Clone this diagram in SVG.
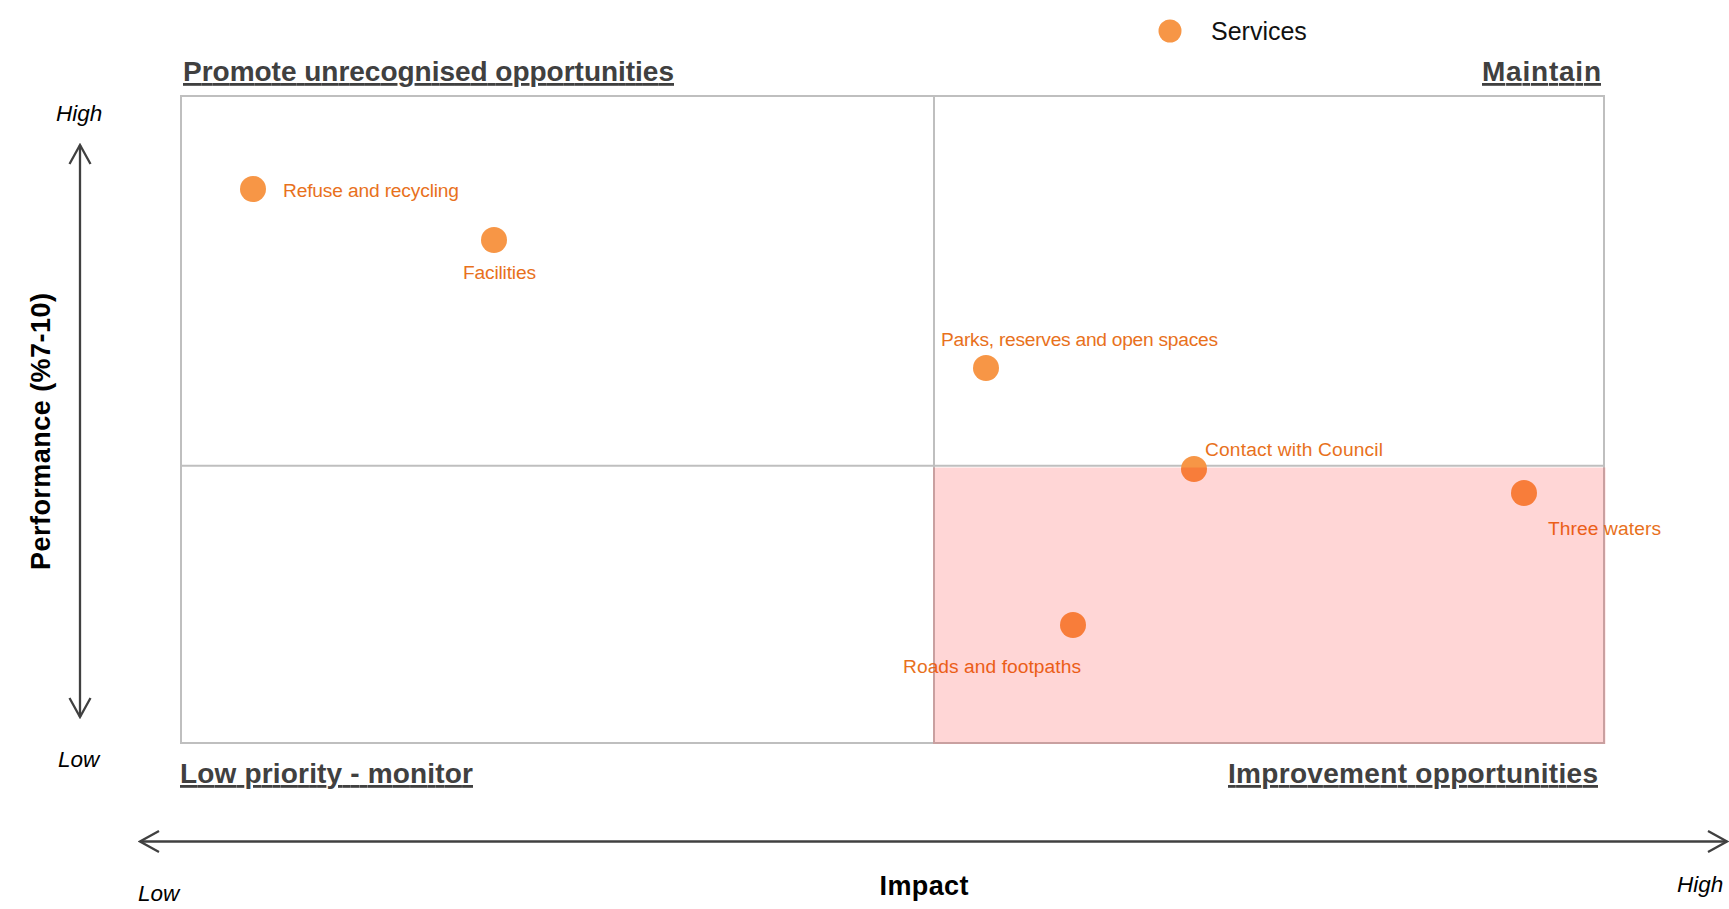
<svg xmlns="http://www.w3.org/2000/svg" width="1729" height="909" viewBox="0 0 1729 909">
<style>
  .heading { font-family: "Liberation Sans", Arial, sans-serif; font-weight: bold; font-size: 28px; fill: #404040; text-decoration: underline; }
  .axislbl { font-family: "Liberation Sans", Arial, sans-serif; font-style: italic; font-size: 22.5px; fill: #000000; }
  .axistitle { font-family: "Liberation Sans", Arial, sans-serif; font-weight: bold; font-size: 27px; fill: #000000; }
  .lbl { font-family: "Liberation Sans", Arial, sans-serif; font-size: 19.2px; fill: #E8711C; }
  .dot { fill: #F79646; }
  .grid { stroke: #BFBFBF; stroke-width: 2; fill: none; }
  .axis { stroke: #404040; stroke-width: 2.3; fill: none; }
  .legend { font-family: "Liberation Sans", Arial, sans-serif; font-size: 25px; fill: #111111; }
</style>
<defs>
  <marker id="chev" viewBox="0 0 22 24" markerWidth="22" markerHeight="24" refX="20" refY="12" markerUnits="userSpaceOnUse" orient="auto-start-reverse">
    <path d="M1,1.5 L20,12 L1,22.5" fill="none" stroke="#404040" stroke-width="2.3"/>
  </marker>
</defs>
<rect x="0" y="0" width="1729" height="909" fill="#FFFFFF"/>

<g id="legend">
  <circle cx="1170" cy="31" r="11.5" class="dot"/>
  <text x="1211" y="40" class="legend">Services</text>
</g>

<g id="quadrant-grid">
  <rect x="181" y="96" width="1423" height="647" class="grid"/>
  <line x1="934" y1="96" x2="934" y2="743" class="grid"/>
  <line x1="181" y1="465.7" x2="1604" y2="465.7" class="grid"/>
</g>

<g id="headings">
  <text id="h-promote" x="183" y="81" class="heading" textLength="491">Promote unrecognised opportunities</text>
  <text id="h-maintain" x="1482" y="81" class="heading" textLength="119">Maintain</text>
  <text id="h-low" x="180" y="783" class="heading" textLength="293">Low priority - monitor</text>
  <text id="h-improve" x="1228" y="783" class="heading" textLength="370">Improvement opportunities</text>
</g>

<g id="connectors">
  <line x1="80" y1="145" x2="80" y2="717" class="axis" marker-start="url(#chev)" marker-end="url(#chev)"/>
  <line x1="140" y1="841.5" x2="1727" y2="841.5" class="axis" marker-start="url(#chev)" marker-end="url(#chev)"/>
</g>

<g id="axis-labels">
  <text x="56" y="121" class="axislbl">High</text>
  <text x="58" y="767" class="axislbl">Low</text>
  <text x="138" y="901" class="axislbl">Low</text>
  <text x="1677" y="892" class="axislbl">High</text>
  <text x="924" y="895" class="axistitle" text-anchor="middle" textLength="89">Impact</text>
  <text transform="translate(49.5,431.5) rotate(-90)" class="axistitle" text-anchor="middle" textLength="277">Performance (%7-10)</text>
</g>

<g id="node-refuse">
  <circle cx="253" cy="189" r="13" class="dot"/>
  <text x="283" y="196.7" class="lbl" textLength="176">Refuse and recycling</text>
</g>
<g id="node-facilities">
  <circle cx="494" cy="240" r="13" class="dot"/>
  <text x="463" y="279.3" class="lbl" textLength="73">Facilities</text>
</g>
<g id="node-parks">
  <circle cx="986" cy="368" r="13" class="dot"/>
  <text x="941" y="345.7" class="lbl" textLength="277">Parks, reserves and open spaces</text>
</g>
<g id="node-contact">
  <circle cx="1194" cy="469" r="13" class="dot"/>
  <text x="1205" y="455.7" class="lbl" textLength="178">Contact with Council</text>
</g>
<g id="node-three-waters">
  <circle cx="1524" cy="493" r="13" class="dot"/>
  <text x="1548" y="535" class="lbl" textLength="113">Three waters</text>
</g>
<g id="node-roads">
  <circle cx="1073" cy="625" r="13" class="dot"/>
  <text x="903" y="672.7" class="lbl" textLength="178">Roads and footpaths</text>
</g>

<g id="improvement-zone">
  <rect x="933" y="467.5" width="672.5" height="276.5" fill="#FF0000" fill-opacity="0.16"/>
</g>
</svg>
